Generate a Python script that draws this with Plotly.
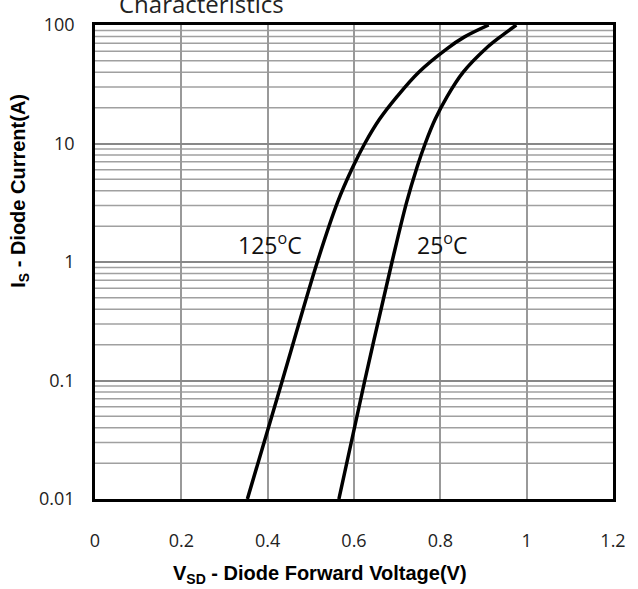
import plotly.graph_objects as go

# 125 °C curve
i125 = [0.01, 0.1, 1.0, 3.2, 6.3, 10, 16, 25, 40, 63, 79, 100]
v125 = [0.353, 0.434, 0.515, 0.562, 0.597, 0.625, 0.659, 0.700, 0.750, 0.815, 0.855, 0.912]
# 25 °C curve
i25 = [0.01, 0.1, 1.0, 3.2, 6.3, 10, 16, 25, 40, 63, 79, 100]
v25 = [0.565, 0.625, 0.688, 0.722, 0.746, 0.765, 0.788, 0.816, 0.853, 0.905, 0.938, 0.976]

x_ticks = [0, 0.2, 0.4, 0.6, 0.8, 1, 1.2]
x_tick_text = ["0", "0.2", "0.4", "0.6", "0.8", "1", "1.2"]
y_ticks = [0.01, 0.1, 1, 10, 100]
y_tick_text = ["0.01", "0.1", "1", "10", "100"]

fig = go.Figure()
line = dict(color="black", width=3.5, shape="spline", smoothing=1.0)
fig.add_trace(go.Scatter(x=v125, y=i125, mode="lines", line=line, showlegend=False))
fig.add_trace(go.Scatter(x=v25, y=i25, mode="lines", line=line, showlegend=False))

# minor horizontal grid lines
minor_vals = [m * 10 ** d for d in range(-2, 2) for m in range(2, 10)]
for mv in minor_vals:
    fig.add_shape(type="line", xref="paper", x0=0, x1=1, yref="y", y0=mv, y1=mv,
                  line=dict(color="#a0a0a0", width=1.5), layer="below")

tick_font = dict(family="Open Sans, Liberation Sans, sans-serif", size=18, color="#222")
fig.update_xaxes(range=[0, 1.2], tickvals=x_ticks, ticktext=x_tick_text,
                 showgrid=True, gridcolor="#999", gridwidth=1.5,
                 showline=True, linecolor="black", linewidth=2.5, mirror=True,
                 zeroline=False, ticks="", tickfont=tick_font, ticklabelstandoff=24)
fig.update_yaxes(type="log", range=[-2, 2], tickvals=y_ticks, ticktext=y_tick_text,
                 showgrid=True, gridcolor="#888", gridwidth=2,
                 showline=True, linecolor="black", linewidth=2.5, mirror=True,
                 zeroline=False, ticks="", tickfont=tick_font, ticklabelstandoff=14)

title_font = dict(family="Liberation Sans Narrow, Arial Narrow, Liberation Sans, sans-serif",
                  size=20, color="black")
annotations = [
    dict(text="<b>V<sub>SD</sub> - Diode Forward Voltage(V)</b>", xref="paper", yref="paper",
         x=0.435, y=-0.16, xanchor="center", yanchor="middle", showarrow=False, font=title_font),
    dict(text="<b>I<sub>S</sub> - Diode Current(A)</b>", xref="paper", yref="paper",
         x=-0.145, y=0.65, xanchor="center", yanchor="middle", textangle=-90,
         showarrow=False, font=title_font),
    dict(text="125<sup>o</sup>C", xref="x", yref="paper", x=0.405, y=0.537,
         xanchor="center", yanchor="middle", showarrow=False,
         font=dict(family="Open Sans, Liberation Sans, sans-serif", size=23, color="#111")),
    dict(text="25<sup>o</sup>C", xref="x", yref="paper", x=0.805, y=0.537,
         xanchor="center", yanchor="middle", showarrow=False,
         font=dict(family="Open Sans, Liberation Sans, sans-serif", size=23, color="#111")),
    dict(text="Characteristics", xref="paper", yref="paper", x=0.205, y=1.0, yshift=22,
         xanchor="center", yanchor="middle", showarrow=False,
         font=dict(family="Open Sans, Liberation Sans, sans-serif", size=24, color="#222")),
]
fig.update_layout(width=638, height=589, margin=dict(l=95, r=23, t=18, b=90),
                  plot_bgcolor="white", paper_bgcolor="white", annotations=annotations)
fig.write_html("out.html")
